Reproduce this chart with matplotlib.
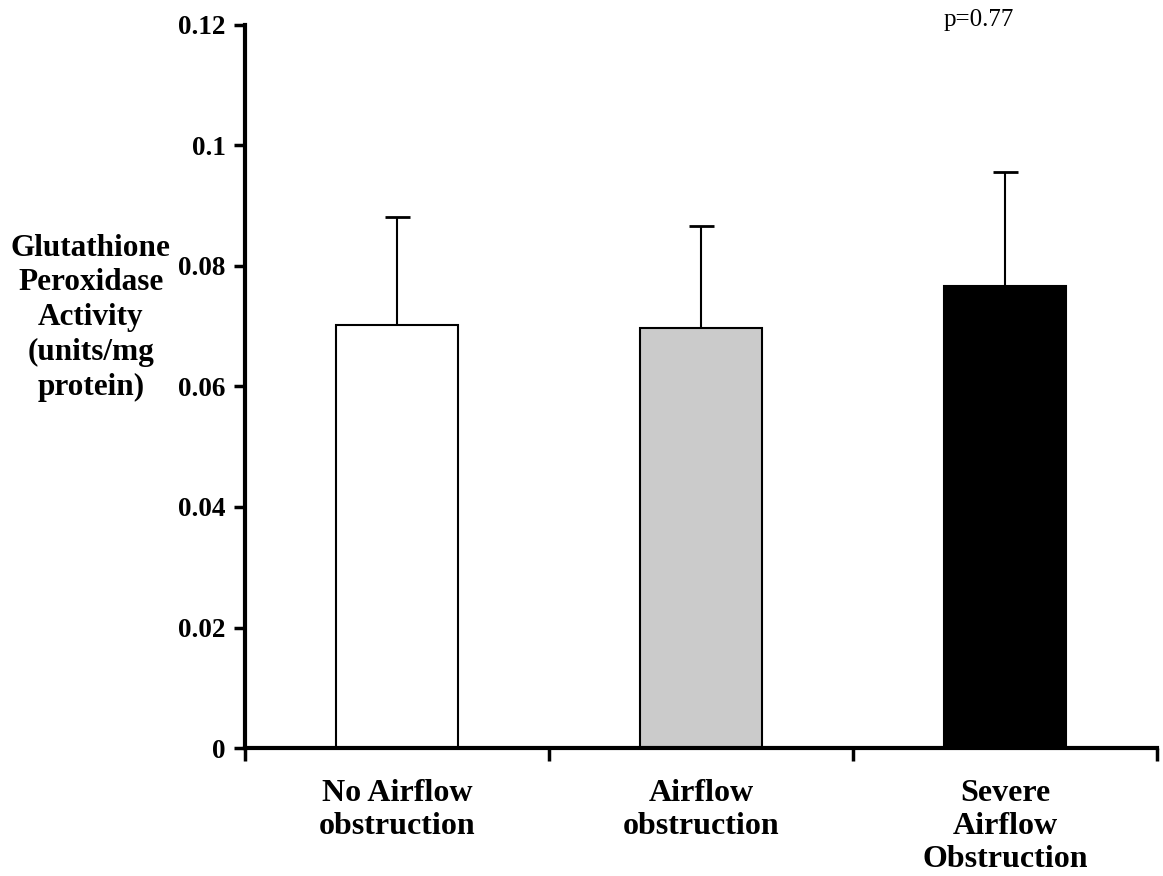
import matplotlib.pyplot as plt
import numpy as np

categories = ['No Airflow\nobstruction', 'Airflow\nobstruction', 'Severe\nAirflow\nObstruction']
means = [0.0702, 0.0697, 0.0767]
errors = [0.0179, 0.0169, 0.0189]
colors = ['white', '#cbcbcb', 'black']
yticks = [0, 0.02, 0.04, 0.06, 0.08, 0.1, 0.12]
ytick_labels = ['0', '0.02', '0.04', '0.06', '0.08', '0.1', '0.12']

plt.rcParams['font.family'] = ['Liberation Serif', 'DejaVu Serif']

fig = plt.figure(figsize=(11.63, 8.76), dpi=100)
ax = fig.add_axes([0.2107, 0.1461, 0.7843, 0.8254])

x = np.arange(len(categories))
ax.bar(x, means, width=0.4, color=colors, edgecolor='black', linewidth=1.5, zorder=2)
ax.errorbar(x, means, yerr=[np.zeros(len(errors)), errors], fmt='none',
            ecolor='black', elinewidth=1.5, capsize=9, capthick=2, zorder=1)

ax.set_xlim(-0.5, 2.5)
ax.set_ylim(0, 0.12)

ax.set_yticks(yticks)
ax.set_yticklabels(ytick_labels, fontsize=19.5, fontweight='bold')
ax.tick_params(axis='y', direction='out', length=8, width=2.5, pad=6)

ax.set_xticks([-0.5, 0.5, 1.5, 2.5])
ax.set_xticklabels([])
ax.tick_params(axis='x', which='major', direction='out', length=9, width=2.5)
ax.set_xticks(x, minor=True)
ax.set_xticklabels(categories, minor=True, fontsize=23, fontweight='bold', linespacing=1.2)
ax.tick_params(axis='x', which='minor', length=0, pad=22)

for side in ['top', 'right']:
    ax.spines[side].set_visible(False)
for side in ['left', 'bottom']:
    ax.spines[side].set_linewidth(3)

fig.text(0.078, 0.637, 'Glutathione\nPeroxidase\nActivity\n(units/mg\nprotein)',
         ha='center', va='center', fontsize=22.5, fontweight='bold', linespacing=1.27)

ax.text(2.03, 1.007, 'p=0.77', transform=ax.get_xaxis_transform(), ha='right',
        va='center', fontsize=18)

fig.savefig('out.png', dpi=100, facecolor='white')
